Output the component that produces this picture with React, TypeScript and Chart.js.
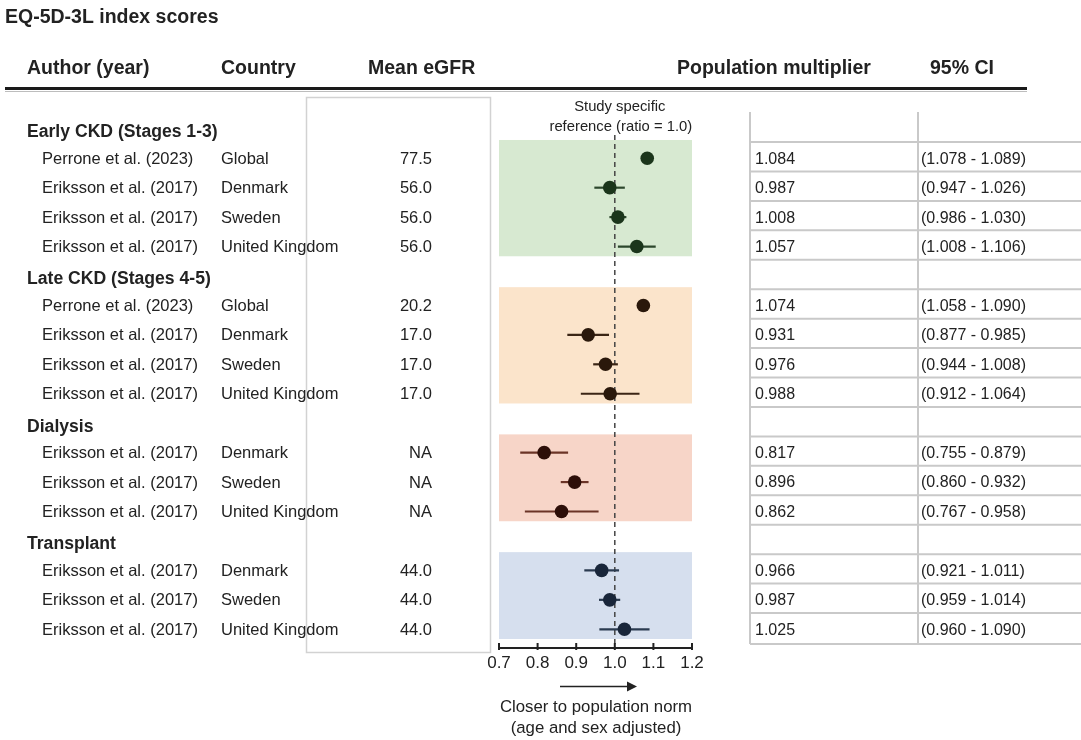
import React, { useEffect, useRef } from "react";
import { Chart, registerables } from "chart.js";

Chart.register(...registerables);

// ---------------- data ----------------
const groupNames = ["Early CKD (Stages 1-3)", "Late CKD (Stages 4-5)", "Dialysis", "Transplant"];
const groupSizes = [4, 4, 3, 3];
const authors = [
  "Perrone et al. (2023)", "Eriksson et al. (2017)", "Eriksson et al. (2017)", "Eriksson et al. (2017)",
  "Perrone et al. (2023)", "Eriksson et al. (2017)", "Eriksson et al. (2017)", "Eriksson et al. (2017)",
  "Eriksson et al. (2017)", "Eriksson et al. (2017)", "Eriksson et al. (2017)",
  "Eriksson et al. (2017)", "Eriksson et al. (2017)", "Eriksson et al. (2017)",
];
const countries = [
  "Global", "Denmark", "Sweden", "United Kingdom",
  "Global", "Denmark", "Sweden", "United Kingdom",
  "Denmark", "Sweden", "United Kingdom",
  "Denmark", "Sweden", "United Kingdom",
];
const meanEgfr = ["77.5", "56.0", "56.0", "56.0", "20.2", "17.0", "17.0", "17.0", "NA", "NA", "NA", "44.0", "44.0", "44.0"];
const multipliers = [1.084, 0.987, 1.008, 1.057, 1.074, 0.931, 0.976, 0.988, 0.817, 0.896, 0.862, 0.966, 0.987, 1.025];
const ciLower = [1.078, 0.947, 0.986, 1.008, 1.058, 0.877, 0.944, 0.912, 0.755, 0.86, 0.767, 0.921, 0.959, 0.96];
const ciUpper = [1.089, 1.026, 1.03, 1.106, 1.09, 0.985, 1.008, 1.064, 0.879, 0.932, 0.958, 1.011, 1.014, 1.09];
const xTicks = [0.7, 0.8, 0.9, 1.0, 1.1, 1.2];
const referenceValue = 1.0;

// ---------------- styles ----------------
const pointColors = ["#1b351b", "#2a180b", "#2d0e08", "#19263a"];
const lineColors = ["#2c472c", "#3b2515", "#6b3427", "#2b3b50"];
const bandColors = ["#d7e9d1", "#fbe4cb", "#f7d5c8", "#d6dfee"];
const FONT = "'Liberation Sans', Arial, sans-serif";
const TXT = "#222222";

// row layout (derived)
const groupRows: number[] = [];
const studyRows: number[] = [];
const studyGroup: number[] = [];
(() => {
  let r = 0;
  groupSizes.forEach((n, g) => {
    groupRows.push(r);
    r++;
    for (let i = 0; i < n; i++) {
      studyRows.push(r);
      studyGroup.push(g);
      r++;
    }
  });
})();
const lastRow = studyRows[studyRows.length - 1];

const W = 1081;
const H = 740;

const forestPlugin = {
  id: "forest",
  beforeDatasetsDraw(chart: any) {
    const { ctx } = chart;
    const xs = chart.scales.x;
    const ys = chart.scales.y;
    ctx.save();
    groupSizes.forEach((n, g) => {
      const first = groupRows[g] + 1;
      const last = groupRows[g] + n;
      const x0 = xs.getPixelForValue(xTicks[0]);
      const x1 = xs.getPixelForValue(xTicks[xTicks.length - 1]);
      const y0 = ys.getPixelForValue(first - 0.62);
      const y1 = ys.getPixelForValue(last + 0.33);
      ctx.fillStyle = bandColors[g];
      ctx.fillRect(x0, y0, x1 - x0, y1 - y0);
    });
    const rx = xs.getPixelForValue(referenceValue);
    ctx.strokeStyle = "#444";
    ctx.lineWidth = 1.5;
    ctx.setLineDash([5, 4]);
    ctx.beginPath();
    ctx.moveTo(rx, ys.getPixelForValue(0.21));
    ctx.lineTo(rx, chart.chartArea.bottom);
    ctx.stroke();
    ctx.setLineDash([]);
    ctx.restore();
  },
  afterDraw(chart: any) {
    const { ctx } = chart;
    const xs = chart.scales.x;
    const ys = chart.scales.y;
    const yr = (r: number) => ys.getPixelForValue(r);
    ctx.save();
    ctx.fillStyle = TXT;
    ctx.textBaseline = "middle";

    // title
    ctx.font = `bold 19.5px ${FONT}`;
    ctx.textAlign = "left";
    ctx.fillText("EQ-5D-3L index scores", 5, 18);

    // headers
    ctx.font = `bold 19.5px ${FONT}`;
    ctx.fillText("Author (year)", 27, 69);
    ctx.fillText("Country", 221, 69);
    ctx.fillText("Mean eGFR", 368, 69);
    ctx.fillText("Population multiplier", 677, 69);
    ctx.fillText("95% CI", 930, 69);

    // header rule
    ctx.strokeStyle = "#1a1a1a";
    ctx.lineWidth = 3;
    ctx.beginPath();
    ctx.moveTo(5, 88.5);
    ctx.lineTo(1027, 88.5);
    ctx.stroke();
    ctx.strokeStyle = "#bdbdbd";
    ctx.lineWidth = 1;
    ctx.beginPath();
    ctx.moveTo(5, 91.5);
    ctx.lineTo(1027, 91.5);
    ctx.stroke();

    // mean eGFR box
    ctx.strokeStyle = "#d2d2d2";
    ctx.lineWidth = 1.5;
    ctx.strokeRect(306.5, 97.5, 184, 555);

    // right table grid
    ctx.strokeStyle = "#c9c9c9";
    ctx.lineWidth = 2;
    const tTop = yr(-0.57);
    const tBot = yr(lastRow + 0.5);
    [750, 918].forEach((x) => {
      ctx.beginPath();
      ctx.moveTo(x, tTop);
      ctx.lineTo(x, tBot);
      ctx.stroke();
    });
    for (let r = 0; r <= lastRow; r++) {
      const y = yr(r + 0.5) - (r === lastRow ? 0 : 1.5);
      ctx.beginPath();
      ctx.moveTo(750, y);
      ctx.lineTo(W, y);
      ctx.stroke();
    }

    // group headers
    ctx.fillStyle = TXT;
    ctx.font = `bold 17.6px ${FONT}`;
    ctx.textAlign = "left";
    groupNames.forEach((name, g) => {
      ctx.fillText(name, 27, yr(groupRows[g]) + 3.5);
    });

    // study rows
    studyRows.forEach((r, i) => {
      const y = yr(r) + 1;
      ctx.textAlign = "left";
      ctx.font = `16.5px ${FONT}`;
      ctx.fillText(authors[i], 42, y);
      ctx.fillText(countries[i], 221, y);
      ctx.font = `16px ${FONT}`;
      ctx.fillText(multipliers[i].toFixed(3), 755, y);
      ctx.fillText(`(${ciLower[i].toFixed(3)} - ${ciUpper[i].toFixed(3)})`, 921, y);
      ctx.textAlign = "right";
      ctx.font = `16.5px ${FONT}`;
      ctx.fillText(meanEgfr[i], 432, y);
    });

    // reference label
    const rx = xs.getPixelForValue(referenceValue);
    ctx.textAlign = "center";
    ctx.font = `14.8px ${FONT}`;
    ctx.fillText("Study specific", rx + 5, 107);
    ctx.fillText("reference (ratio = 1.0)", rx + 6, 127);

    // x axis bracket
    const ab = chart.chartArea.bottom;
    const xa = xs.getPixelForValue(xTicks[0]);
    const xb = xs.getPixelForValue(xTicks[xTicks.length - 1]);
    ctx.strokeStyle = "#222";
    ctx.lineWidth = 2;
    ctx.beginPath();
    ctx.moveTo(xa, ab);
    ctx.lineTo(xb, ab);
    ctx.stroke();
    xTicks.forEach((v) => {
      const px = xs.getPixelForValue(v);
      ctx.beginPath();
      ctx.moveTo(px, ab - 5);
      ctx.lineTo(px, ab + 2);
      ctx.stroke();
    });

    // arrow
    const ay = 686.5;
    ctx.lineWidth = 1.5;
    ctx.beginPath();
    ctx.moveTo(560, ay);
    ctx.lineTo(628, ay);
    ctx.stroke();
    ctx.fillStyle = "#222";
    ctx.beginPath();
    ctx.moveTo(637, ay);
    ctx.lineTo(627, ay - 5);
    ctx.lineTo(627, ay + 5);
    ctx.closePath();
    ctx.fill();

    ctx.font = `16.8px ${FONT}`;
    ctx.textAlign = "center";
    ctx.fillText("Closer to population norm", 596, 707);
    ctx.fillText("(age and sex adjusted)", 596, 728);
    ctx.restore();
  },
};

export default function App() {
  const ref = useRef<HTMLCanvasElement | null>(null);
  useEffect(() => {
    if (!ref.current) return;
    const datasets: any[] = [];
    groupSizes.forEach((_, g) => {
      const data: any[] = [];
      studyRows.forEach((r, i) => {
        if (studyGroup[i] === g) data.push({ x: multipliers[i], y: r });
      });
      datasets.push({
        type: "scatter",
        data,
        pointRadius: 6.8,
        pointHoverRadius: 6.8,
        backgroundColor: pointColors[g],
        borderColor: pointColors[g],
        borderWidth: 0,
        order: 0,
      });
    });
    studyRows.forEach((r, i) => {
      datasets.push({
        type: "line",
        data: [
          { x: ciLower[i], y: r },
          { x: ciUpper[i], y: r },
        ],
        borderColor: lineColors[studyGroup[i]],
        borderWidth: 2.2,
        pointRadius: 0,
        fill: false,
        order: 1,
      });
    });

    const chart = new Chart(ref.current, {
      type: "scatter",
      data: { datasets },
      plugins: [forestPlugin],
      options: {
        animation: false,
        responsive: false,
        devicePixelRatio: 1,
        events: [],
        layout: { padding: { left: 499, right: W - 692, top: 100, bottom: H - 648 - 26 } },
        plugins: { legend: { display: false }, tooltip: { enabled: false } },
        scales: {
          x: {
            type: "linear",
            min: xTicks[0],
            max: xTicks[xTicks.length - 1],
            afterBuildTicks: (s: any) => {
              s.ticks = xTicks.map((v) => ({ value: v }));
            },
            afterFit: (s: any) => {
              s.height = 26;
            },
            grid: { display: false, drawTicks: false },
            border: { display: false },
            ticks: {
              padding: 5,
              color: TXT,
              font: { family: FONT, size: 17 },
              maxRotation: 0,
              autoSkip: false,
              callback: (v: any) => Number(v).toFixed(1),
            },
          },
          y: {
            type: "linear",
            display: false,
            reverse: true,
            min: -0.978,
            max: 17.636,
          },
        },
      },
    } as any);
    return () => chart.destroy();
  }, []);

  return (
    <div style={{ position: "fixed", left: 0, top: 0, width: W, height: H, background: "#fff" }}>
      <canvas ref={ref} width={W} height={H} style={{ width: W, height: H, display: "block" }} />
    </div>
  );
}
